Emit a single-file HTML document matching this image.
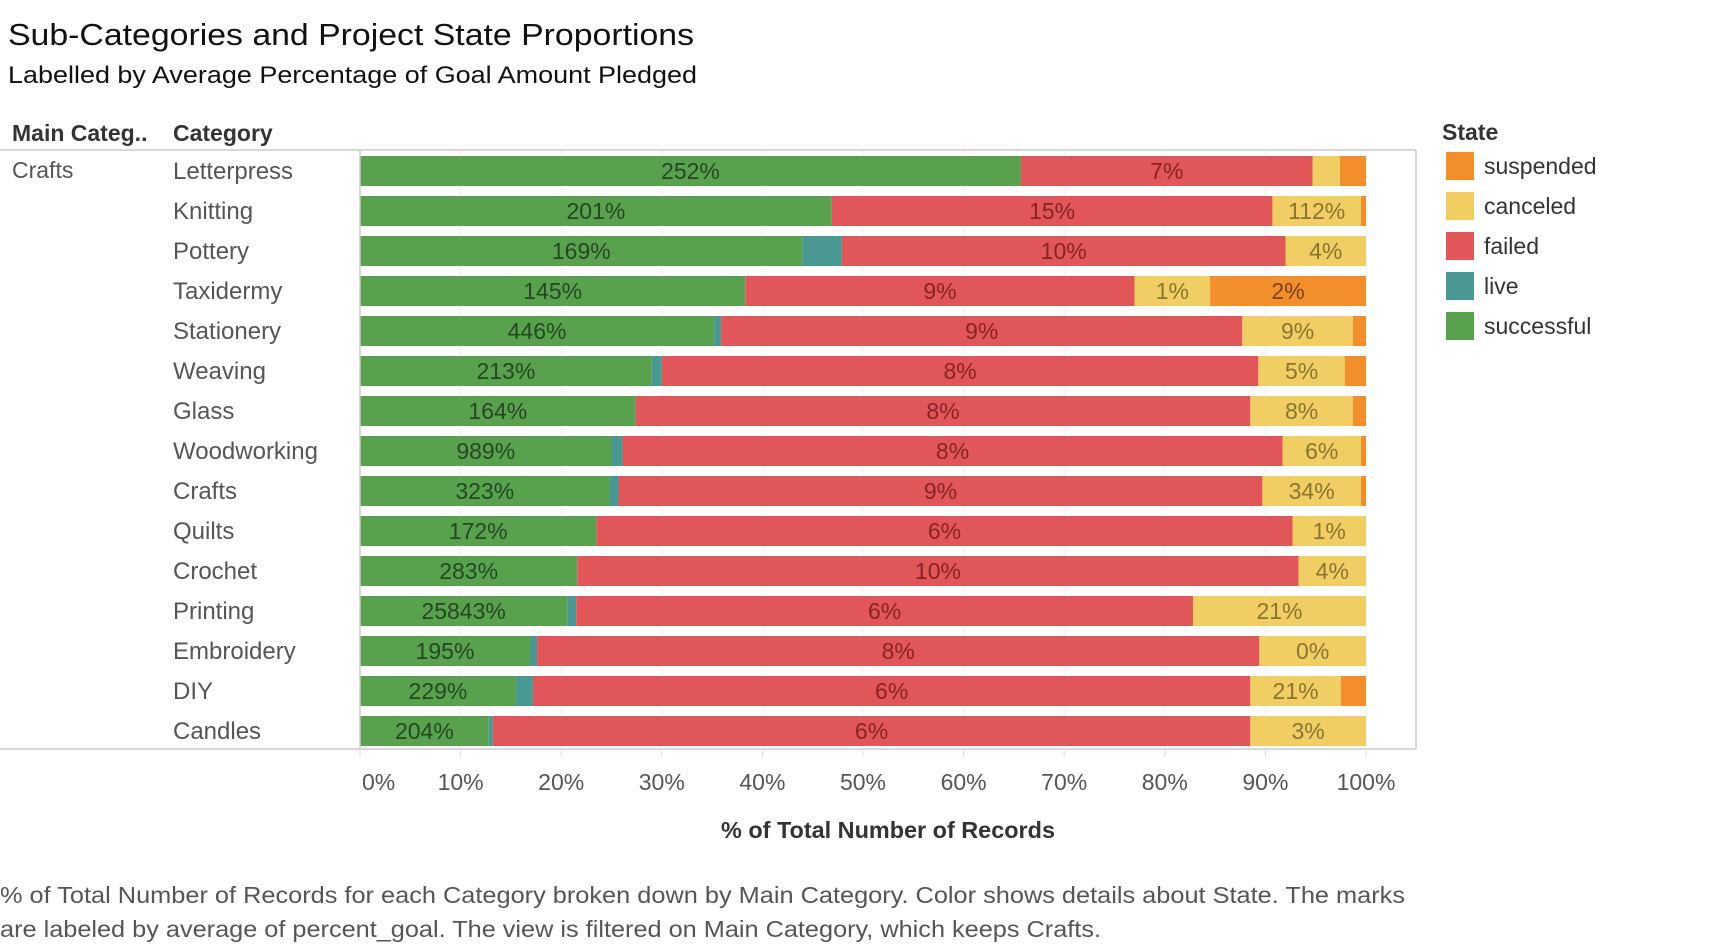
<!DOCTYPE html>
<html><head><meta charset="utf-8">
<style>
html,body{margin:0;padding:0;background:#fff;}
body{width:1720px;height:946px;overflow:hidden;font-family:"Liberation Sans",sans-serif;}
</style></head>
<body>
<svg id="chart" width="1720" height="946" xmlns="http://www.w3.org/2000/svg" font-family="Liberation Sans, sans-serif">
  <text x="8" y="45" font-size="31" fill="#111" textLength="686" lengthAdjust="spacingAndGlyphs">Sub-Categories and Project State Proportions</text>
  <text x="8" y="83" font-size="24" fill="#111" textLength="689" lengthAdjust="spacingAndGlyphs">Labelled by Average Percentage of Goal Amount Pledged</text>
  <text x="12" y="141" font-size="23" font-weight="bold" fill="#333">Main Categ..</text>
  <text x="173" y="141" font-size="23" font-weight="bold" fill="#333">Category</text>
  <text x="12" y="178" font-size="23" fill="#555">Crafts</text>
  <g id="grid"></g>
  <g id="bars"></g>
  <g id="rowlabels"></g>
  <line x1="0" y1="150" x2="1416" y2="150" stroke="#ccc" stroke-width="1.5"/>
  <line x1="360" y1="150" x2="360" y2="749" stroke="#ccc" stroke-width="1.5"/>
  <line x1="1416" y1="150" x2="1416" y2="749" stroke="#ccc" stroke-width="1.5"/>
  <line x1="0" y1="749" x2="1416" y2="749" stroke="#ccc" stroke-width="1.5"/>
  <g id="xaxis"></g>
  <text x="721" y="838" font-size="23" font-weight="bold" fill="#333" textLength="334" lengthAdjust="spacingAndGlyphs">% of Total Number of Records</text>
  <text x="0" y="903" font-size="23" fill="#555" textLength="1405" lengthAdjust="spacingAndGlyphs">% of Total Number of Records for each Category broken down by Main Category.  Color shows details about State.  The marks</text>
  <text x="0" y="937" font-size="23" fill="#555" textLength="1101" lengthAdjust="spacingAndGlyphs">are labeled by average of percent_goal. The view is filtered on Main Category, which keeps Crafts.</text>
  <text x="1442" y="140" font-size="23" font-weight="bold" fill="#333">State</text>
  <g id="legend"></g>
</svg>
<script>
const categories = ["Letterpress","Knitting","Pottery","Taxidermy","Stationery","Weaving","Glass","Woodworking","Crafts","Quilts","Crochet","Printing","Embroidery","DIY","Candles"];
const successful = [65.7,46.9,44.0,38.3,35.2,29.0,27.4,25.0,24.8,23.5,21.6,20.6,16.9,15.5,12.8];
const live       = [0,0,3.9,0,0.7,1.0,0,1.1,0.9,0,0,0.9,0.7,1.7,0.4];
const failed     = [29.0,43.8,44.1,38.7,51.8,59.3,61.1,65.6,64.0,69.2,71.7,61.3,71.8,71.3,75.3];
const canceled   = [2.7,8.8,8.0,7.5,11.0,8.6,10.2,7.8,9.8,7.3,6.7,17.2,10.6,9.0,11.5];
const suspended  = [2.6,0.5,0,15.5,1.3,2.1,1.3,0.5,0.5,0,0,0,0,2.5,0];
const successfulLabels = ["252%","201%","169%","145%","446%","213%","164%","989%","323%","172%","283%","25843%","195%","229%","204%"];
const failedLabels = ["7%","15%","10%","9%","9%","8%","8%","8%","9%","6%","10%","6%","8%","6%","6%"];
const canceledLabels = ["","112%","4%","1%","9%","5%","8%","6%","34%","1%","4%","21%","0%","21%","3%"];
const suspendedLabels = ["","","","2%","","","","","","","","","","",""];
const xTicks = [0,10,20,30,40,50,60,70,80,90,100];

const NS="http://www.w3.org/2000/svg";
const x0=360,x1=1366,rowTop=156,pitch=40,barH=30;
const xs=v=>x0+(x1-x0)*v/100;
const ys=i=>rowTop+pitch*i;
function mk(tag,attrs,parent){const e=document.createElementNS(NS,tag);for(const k in attrs)e.setAttribute(k,attrs[k]);parent.appendChild(e);return e;}

const grid=document.getElementById('grid');
xTicks.forEach(t=>{
  const l=mk('line',{x1:xs(t),x2:xs(t),y1:150,y2:749,stroke:'#eee','stroke-width':1},grid);
  
  
});

const series=[
 {name:'successful',vals:successful,labels:successfulLabels,color:'#59a14f',tc:'#24481f'},
 {name:'live',vals:live,labels:null,color:'#499894',tc:'#1d3d3b'},
 {name:'failed',vals:failed,labels:failedLabels,color:'#e15759',tc:'#8a2224'},
 {name:'canceled',vals:canceled,labels:canceledLabels,color:'#f1ce63',tc:'#8a7530'},
 {name:'suspended',vals:suspended,labels:suspendedLabels,color:'#f28e2b',tc:'#7a4310'}
];
const bars=document.getElementById('bars');
const rl=document.getElementById('rowlabels');
categories.forEach((c,i)=>{
  const y=ys(i);
  const lab=mk('text',{x:173,y:y+barH/2+8,'font-size':24,fill:'#555'},rl);
  lab.textContent=c;
  
  
  let cum=0;
  series.forEach(s=>{
    const v=s.vals[i];
    if(v>0){
      const r=mk('rect',{x:xs(cum),y:y,width:xs(cum+v)-xs(cum),height:barH,fill:s.color},bars);
      
      
      if(s.labels&&s.labels[i]){
        const t=mk('text',{x:(xs(cum)+xs(cum+v))/2,y:y+barH/2+8,'font-size':23,fill:s.tc,'text-anchor':'middle'},bars);
        t.textContent=s.labels[i];
        
        
      }
    }
    cum+=v;
  });
});

const xa=document.getElementById('xaxis');
xTicks.forEach(t=>{
  const tk=mk('line',{x1:xs(t),x2:xs(t),y1:749,y2:757,stroke:'#ddd'},xa);
  
  
  const anchor=t===0?'start':'middle';
  const tx=t===0?xs(t)+2:xs(t);
  const lb=mk('text',{x:tx,y:790,'font-size':23,fill:'#555','text-anchor':anchor},xa);
  lb.textContent=t+'%';
  
  
});

const legendItems=[['suspended','#f28e2b'],['canceled','#f1ce63'],['failed','#e15759'],['live','#499894'],['successful','#59a14f']];
const lg=document.getElementById('legend');
legendItems.forEach((it,i)=>{
  const y=152+40*i;
  const r=mk('rect',{x:1446,y:y,width:28,height:28,fill:it[1]},lg);
  
  
  const t=mk('text',{x:1484,y:y+22,'font-size':23,fill:'#333'},lg);
  t.textContent=it[0];
  
  
});
</script>
</body></html>
